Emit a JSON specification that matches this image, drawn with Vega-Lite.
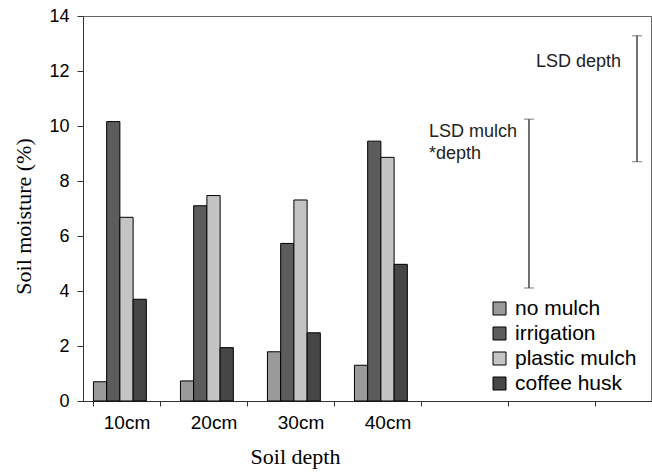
{
  "$schema": "https://vega.github.io/schema/vega-lite/v6.json",
  "autosize": "none",
  "width": 568,
  "height": 385,
  "padding": {"left": 83, "top": 16, "right": 1, "bottom": 71},
  "background": "white",
  "config": {"view": {"stroke": "#666", "strokeWidth": 1}, "font": "Liberation Sans"},
  "layer": [
    {
      "data": {
        "values": [
          {"depth": "10cm", "treatment": "no mulch", "moisture": 0.70},
          {"depth": "10cm", "treatment": "irrigation", "moisture": 10.16},
          {"depth": "10cm", "treatment": "plastic mulch", "moisture": 6.68},
          {"depth": "10cm", "treatment": "coffee husk", "moisture": 3.70},
          {"depth": "20cm", "treatment": "no mulch", "moisture": 0.73},
          {"depth": "20cm", "treatment": "irrigation", "moisture": 7.10},
          {"depth": "20cm", "treatment": "plastic mulch", "moisture": 7.47},
          {"depth": "20cm", "treatment": "coffee husk", "moisture": 1.94},
          {"depth": "30cm", "treatment": "no mulch", "moisture": 1.79},
          {"depth": "30cm", "treatment": "irrigation", "moisture": 5.73},
          {"depth": "30cm", "treatment": "plastic mulch", "moisture": 7.31},
          {"depth": "30cm", "treatment": "coffee husk", "moisture": 2.48},
          {"depth": "40cm", "treatment": "no mulch", "moisture": 1.30},
          {"depth": "40cm", "treatment": "irrigation", "moisture": 9.45},
          {"depth": "40cm", "treatment": "plastic mulch", "moisture": 8.86},
          {"depth": "40cm", "treatment": "coffee husk", "moisture": 4.97}
        ]
      },
      "mark": {"type": "bar", "stroke": "black", "strokeWidth": 1},
      "encoding": {
        "x": {
          "field": "depth",
          "type": "nominal",
          "scale": {
            "domain": ["10cm", "20cm", "30cm", "40cm", "e1", "e2", "e3"],
            "range": [0, 609],
            "paddingInner": 0.24,
            "paddingOuter": 0.12
          },
          "axis": {
            "title": "Soil depth",
            "titleFont": "Liberation Serif",
            "titleFontSize": 22,
            "titleFontWeight": "normal",
            "titleColor": "black",
            "titleX": 212,
            "titleY": 62,
            "titleBaseline": "alphabetic",
            "tickBand": "extent",
            "labelAngle": 0,
            "labelFont": "Liberation Sans",
            "labelFontSize": 19,
            "labelColor": "black",
            "labelPadding": 7,
            "labelExpr": "indexof(['10cm','20cm','30cm','40cm'], datum.value) >= 0 ? datum.value : ''",
            "domainColor": "#333",
            "tickColor": "#333",
            "tickSize": 5
          }
        },
        "xOffset": {
          "field": "treatment",
          "type": "nominal",
          "scale": {
            "domain": ["no mulch", "irrigation", "plastic mulch", "coffee husk", "zz"],
            "paddingInner": 0,
            "paddingOuter": 0
          }
        },
        "y": {
          "field": "moisture",
          "type": "quantitative",
          "title": "Soil moisture (%)",
          "scale": {"domain": [0, 14], "nice": false},
          "axis": {
            "values": [0, 2, 4, 6, 8, 10, 12, 14],
            "grid": false,
            "titleFont": "Liberation Serif",
            "titleFontSize": 22,
            "titleFontWeight": "normal",
            "titleColor": "black",
            "titleX": -53,
            "titleY": 200,
            "titleBaseline": "alphabetic",
            "labelFont": "Liberation Sans",
            "labelFontSize": 18,
            "labelColor": "black",
            "labelPadding": 8,
            "tickSize": 6,
            "domainColor": "#333",
            "tickColor": "#333"
          }
        },
        "color": {
          "field": "treatment",
          "type": "nominal",
          "scale": {
            "domain": ["no mulch", "irrigation", "plastic mulch", "coffee husk"],
            "range": ["#9a9a9a", "#5c5c5c", "#c4c4c4", "#464646"]
          },
          "legend": {
            "title": null,
            "orient": "none",
            "legendX": 406,
            "legendY": 282,
            "symbolType": "square",
            "symbolSize": 169,
            "symbolStrokeColor": "black",
            "symbolStrokeWidth": 1,
            "symbolOpacity": 1,
            "labelFont": "Liberation Sans",
            "labelFontSize": 21,
            "labelColor": "black",
            "labelOffset": 5,
            "rowPadding": 3
          }
        }
      }
    },
    {
      "data": {
        "values": [
          {"label": "LSD mulch*depth", "pos": 5.126, "low": 4.11, "high": 10.25},
          {"label": "LSD depth", "pos": 6.368, "low": 8.70, "high": 13.28}
        ]
      },
      "mark": {
        "type": "errorbar",
        "orient": "vertical",
        "ticks": {"size": 10, "color": "#444", "strokeWidth": 1.5},
        "rule": {"color": "#444", "strokeWidth": 1.5}
      },
      "encoding": {
        "x": {"field": "pos", "type": "quantitative", "scale": {"domain": [0, 7], "range": [0, 609]}, "axis": null},
        "y": {"field": "low", "type": "quantitative", "title": "Soil moisture (%)"},
        "y2": {"field": "high"}
      }
    },
    {
      "data": {
        "values": [
          {"text": "LSD mulch", "tx": 3.977, "ty": 9.59},
          {"text": "*depth", "tx": 3.977, "ty": 8.80},
          {"text": "LSD depth", "tx": 5.207, "ty": 12.16}
        ]
      },
      "mark": {"type": "text", "align": "left", "baseline": "alphabetic", "fontSize": 18, "font": "Liberation Sans", "color": "#222"},
      "encoding": {
        "x": {"field": "tx", "type": "quantitative", "scale": {"domain": [0, 7], "range": [0, 609]}, "axis": null},
        "y": {"field": "ty", "type": "quantitative", "title": "Soil moisture (%)"},
        "text": {"field": "text"}
      }
    }
  ],
  "resolve": {"scale": {"x": "independent"}}
}
